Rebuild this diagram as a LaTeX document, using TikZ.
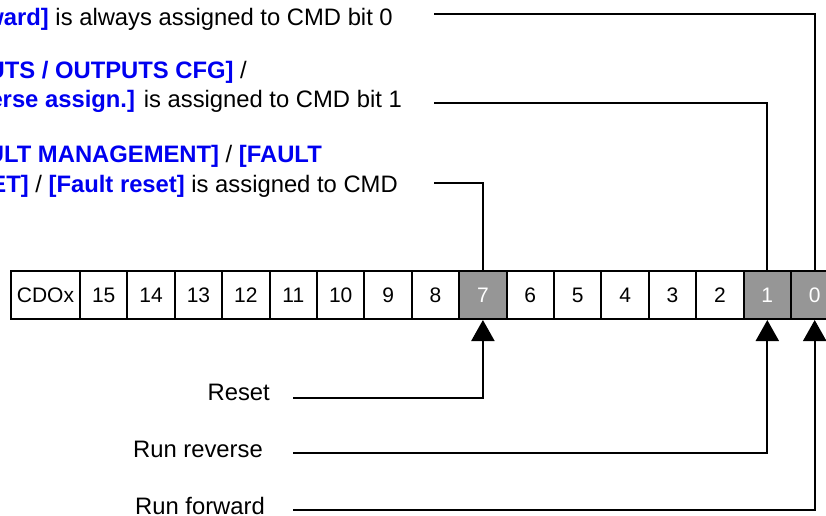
\documentclass[tikz,border=0pt]{standalone}
\usepackage{fontspec}
\setmainfont{Liberation Sans}
\usetikzlibrary{arrows.meta}
\definecolor{kwblue}{RGB}{0,0,240}
\definecolor{cellgrey}{RGB}{150,150,150}
\newcommand{\kw}[1]{\textbf{\color{kwblue}#1}}
\begin{document}
\begin{tikzpicture}[x=1pt,y=-1pt,
  cell/.style={draw, line width=2pt, minimum width=47.4pt, minimum height=48pt,
    inner sep=0pt, font=\fontsize{21}{25}\selectfont},
  hot/.style={cell, fill=cellgrey, text=white},
  lbl/.style={font=\fontsize{23.8}{28}\selectfont, inner sep=0pt, anchor=base east},
  wire/.style={line width=2.2pt},
  arr/.style={wire, -{Triangle[width=23pt,length=21pt]}}]
\useasboundingbox (0,0) rectangle (826,515);

% register cells
\node[cell, minimum width=69pt] (cdo) at (45.5,295) {CDOx};
\foreach \b in {15,14,13,12,11,10,9,8,6,5,4,3,2}
  \node[cell] (b\b) at ({103.7+47.4*(15-\b)},295) {\b};
\foreach \b in {7,1,0}
  \node[hot] (b\b) at ({103.7+47.4*(15-\b)},295) {\b};

% upper texts
\node[lbl] (u1) at (393,25) {\kw{[Forward]} is always assigned to CMD bit 0};
\node[lbl] (u2) at (247,78) {\kw{[INPUTS / OUTPUTS CFG]} /};
\node[lbl] (u3) at (402,107) {\kw{[Reverse assign.]} is assigned to CMD bit 1};
\node[lbl] (u4) at (322,162) {\kw{[FAULT MANAGEMENT]} / \kw{[FAULT}};
\node[lbl] (u5) at (398,192) {\kw{RESET]} / \kw{[Fault reset]} is assigned to CMD};

% lower labels
\node[lbl] (l7) at (270,400) {Reset};
\node[lbl] (l1) at (263,457) {Run reverse};
\node[lbl] (l0) at (265,514) {Run forward};

% connector ends
\coordinate (t0) at (434,14);
\coordinate (t1) at (434,103);
\coordinate (t7) at (434,183);
\coordinate (r7) at (293,398);
\coordinate (r1) at (293,453);
\coordinate (r0) at (293,510);

\draw[wire] (t0) -| (b0.north);
\draw[wire] (t1) -| (b1.north);
\draw[wire] (t7) -| (b7.north);
\draw[arr] (r7) -| (b7.south);
\draw[arr] (r1) -| (b1.south);
\draw[arr] (r0) -| (b0.south);
\end{tikzpicture}
\end{document}
